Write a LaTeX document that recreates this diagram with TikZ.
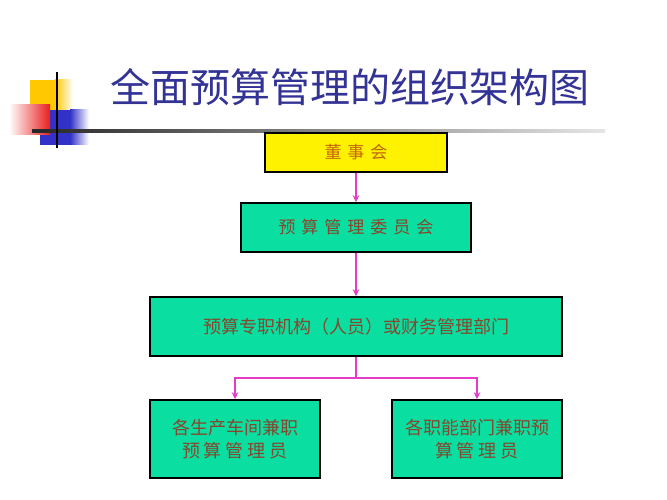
\documentclass[tikz,border=0pt]{standalone}
\usepackage{fontspec}
\newfontfamily\cjk{Noto Sans CJK SC}
\usetikzlibrary{arrows.meta}
\definecolor{titleblue}{RGB}{51,51,150}
\definecolor{boxgreen}{RGB}{10,222,160}
\definecolor{boxtext}{RGB}{135,70,45}
\definecolor{toptext}{RGB}{195,100,10}
\definecolor{arrowmag}{RGB}{228,60,200}
\definecolor{decoyellow}{RGB}{255,200,0}
\definecolor{decored}{RGB}{235,30,30}
\definecolor{decoblue}{RGB}{50,50,200}
\tikzset{
  box/.style={draw=black, line width=1.5pt, fill=boxgreen, text=boxtext, font=\cjk\fontsize{17}{23}\selectfont, align=center, inner sep=0pt},
  topbox/.style={box, fill=yellow, text=toptext},
  conn/.style={draw=arrowmag, line width=2.2pt},
  arr/.style={conn, -{Stealth[length=7pt,width=6.5pt]}}
}
\begin{document}
\begin{tikzpicture}[x=1pt,y=-1pt]
\useasboundingbox (0,0) rectangle (667,500);
% decoration
\fill[decoyellow] (30,80) rectangle (55,110);
\shade[left color=decoyellow, right color=white] (55,80) rectangle (73,110);
\fill[decoblue] (40,110) rectangle (70,145);
\shade[left color=decoblue, right color=white] (70,110) rectangle (89,145);
\shade[left color=white, right color=decored] (9,105) rectangle (50,135);
\shade[left color=black!85, right color=black!10] (32,129.8) rectangle (605,132.8);
\draw[black, line width=2pt] (57,72) -- (57,148);
% title
\node[text=titleblue, font=\cjk\fontsize{40}{44}\selectfont, inner sep=0pt] (title) at (350,87) {全面预算管理的组织架构图};
% boxes
\node[topbox, minimum width=182pt, minimum height=39pt] (board) at (356,152.5) {董\hspace{6pt}事\hspace{6pt}会};
\node[box, minimum width=230pt, minimum height=49pt] (comm) at (356,227.5) {预\hspace{6pt}算\hspace{6pt}管\hspace{6pt}理\hspace{6pt}委\hspace{6pt}员\hspace{6pt}会};
\node[box, font=\cjk\fontsize{18}{23}\selectfont, minimum width=412pt, minimum height=59pt] (dept) at (356,326.5) {预算专职机构（人员）或财务管理部门};
\node[box, font=\cjk\fontsize{18}{23}\selectfont, minimum width=170pt, minimum height=78pt] (bl) at (235,439) {各生产车间兼职\\预\hspace{4pt}算\hspace{4pt}管\hspace{4pt}理\hspace{4pt}员};
\node[box, font=\cjk\fontsize{18}{23}\selectfont, minimum width=170pt, minimum height=78pt] (br) at (477,439) {各职能部门兼职预\\算\hspace{4pt}管\hspace{4pt}理\hspace{4pt}员};
% connectors
\coordinate (split) at (356,378);
\draw[arr] (board.south) -- (comm.north);
\draw[arr] (comm.south) -- (dept.north);
\draw[conn] (dept.south) -- (split);
\draw[arr] (split) -| (bl.north);
\draw[arr] (split) -| (br.north);
\end{tikzpicture}
\end{document}
